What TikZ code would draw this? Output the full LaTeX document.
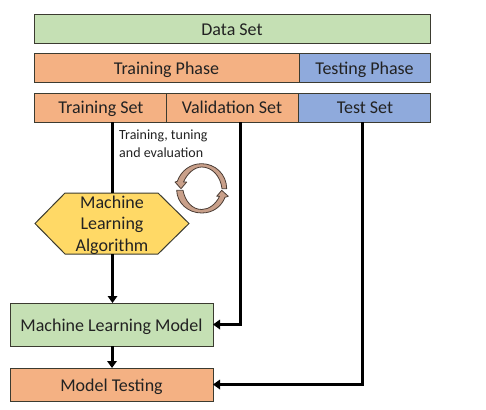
\documentclass[tikz,border=0pt]{standalone}
\usepackage{fontspec}
\setmainfont{Carlito}
\usetikzlibrary{arrows.meta,calc}
\definecolor{cgreen}{HTML}{C5E0B4}
\definecolor{corange}{HTML}{F4B183}
\definecolor{cblue}{HTML}{8FAADC}
\definecolor{cyellow}{HTML}{FFD966}
\definecolor{cedge}{HTML}{3B3B30}
\definecolor{ctext}{HTML}{222222}
\definecolor{cloop}{HTML}{C9A08A}
\definecolor{cloopedge}{HTML}{4A3C34}
\tikzset{
  box/.style={draw=cedge,line width=1pt,rectangle,inner sep=0pt,outer sep=0pt,text=ctext,font=\fontsize{18}{21}\selectfont,text height=13pt,text depth=0pt},
  flow/.style={draw=black,line width=3pt},
  flowarrow/.style={flow,-{Triangle[length=7pt,width=9.5pt]}},
  loop/.style={fill=cloop,draw=cloopedge,line width=0.8pt,line join=round},
}
\begin{document}
\begin{tikzpicture}[x=1pt,y=-1pt]
\useasboundingbox (0,0) rectangle (486,409);
\node[box,fill=cgreen,minimum width=396pt,minimum height=29pt,text height=11.5pt] (data) at (232,29.5) {Data Set};
\node[box,fill=corange,minimum width=265pt,minimum height=29pt] (trainphase) at (166.5,68.5) {Training Phase};
\node[box,fill=cblue,minimum width=131pt,minimum height=29pt] (testphase) at (364.5,68.5) {Testing Phase};
\node[box,fill=corange,minimum width=132pt,minimum height=29pt,text height=11.5pt] (trainset) at (100,107.5) {\hspace{2pt}Training Set};
\node[box,fill=corange,minimum width=132pt,minimum height=29pt,text height=11.5pt] (valset) at (232,107.5) {Validation Set};
\node[box,fill=cblue,minimum width=132pt,minimum height=29pt,text height=11.5pt] (testset) at (364,107.5) {\hspace{2pt}Test Set};
\node[box,fill=cgreen,minimum width=203pt,minimum height=43pt,text height=14pt] (mlmodel) at (111.5,324.5) {Machine Learning Model};
\node[box,fill=corange,minimum width=203pt,minimum height=33pt] (modeltest) at (111.5,384.5) {Model Testing};
% hexagon
\draw[draw=cedge,line width=1pt,fill=cyellow,line join=miter] (35,223.5) -- (65,193) -- (158,193) -- (189,223.5) -- (158,254) -- (65,254) -- cycle;
\node[rectangle,inner sep=0pt,outer sep=0pt,minimum width=93pt,minimum height=61pt] (alg) at (112,223.5) {};
\node[inner sep=0pt,align=center,text=ctext,font=\fontsize{18}{21.5}\selectfont] (algtext) at (112,225) {Machine\\Learning\\Algorithm};
% note
\node[inner sep=0pt,anchor=north west,align=left,text=ctext,font=\fontsize{14}{17.3}\selectfont] (note) at (119,130) {Training, tuning\\and evaluation};
% loop arrows
\draw[loop] (226.7,188.7) .. controls (226.5,174) and (215,163.7) .. (201.7,163.7) .. controls (190,163.7) and (181,171) .. (177.3,181.3)
  -- (175,182) -- (181,188.7) -- (186.7,182) -- (183.5,182) .. controls (187,174) and (194,167) .. (201.7,167) .. controls (212,167) and (220.5,176) .. (222,188.7) -- cycle;
\draw[loop] (176.7,190.3) .. controls (177,203) and (188,213) .. (201.7,213) .. controls (213,213) and (221.5,206.5) .. (225,197.3)
  -- (228.3,196.3) -- (221.7,190.3) -- (216.7,196.3) -- (219.5,196.3) .. controls (216,204) and (209,209.5) .. (201.7,209.5) .. controls (192,209.5) and (185,201) .. (183,190.3) -- cycle;
% connectors
\draw[flow] ([xshift=12.5pt]trainset.south) -- ([xshift=.5pt]alg.north);
\draw[flowarrow] ([xshift=.5pt]alg.south) -- ([xshift=1pt]mlmodel.north);
\draw[flowarrow] ([xshift=.5pt]mlmodel.south) -- ([xshift=.5pt]modeltest.north);
\draw[flowarrow] ([xshift=8pt]valset.south) |- (mlmodel.east);
\draw[flowarrow] ([xshift=-2pt]testset.south) |- (modeltest.east);
\end{tikzpicture}
\end{document}
